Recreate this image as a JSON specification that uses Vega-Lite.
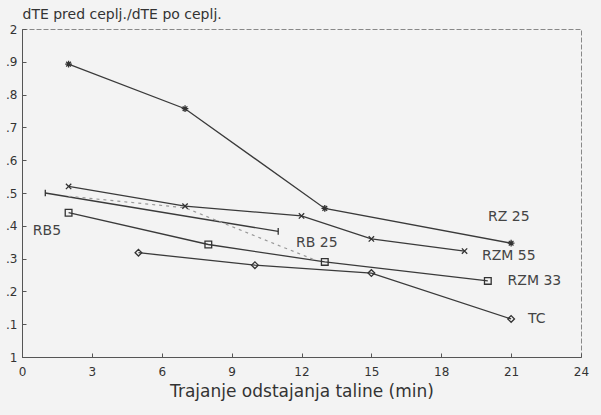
{
  "$schema": "https://vega.github.io/schema/vega-lite/v6.json",
  "width": 559,
  "height": 328,
  "autosize": "none",
  "padding": {"left": 22, "top": 29, "right": 20, "bottom": 58},
  "background": "#f3f3f3",
  "config": {
    "font": "DejaVu Sans",
    "axis": {"labelOverlap": false},
    "view": {"stroke": "#888888", "strokeDash": [5, 2], "strokeWidth": 1}
  },
  "datasets": {
    "lines": [
      {"series": "RZ 25", "x": 2, "y": 1.893},
      {"series": "RZ 25", "x": 7, "y": 1.757},
      {"series": "RZ 25", "x": 13, "y": 1.453},
      {"series": "RZ 25", "x": 21, "y": 1.347},
      {"series": "RZM 55", "x": 2, "y": 1.52},
      {"series": "RZM 55", "x": 7, "y": 1.46},
      {"series": "RZM 55", "x": 12, "y": 1.43},
      {"series": "RZM 55", "x": 15, "y": 1.36},
      {"series": "RZM 55", "x": 19, "y": 1.323},
      {"series": "RZM 33", "x": 2, "y": 1.44},
      {"series": "RZM 33", "x": 8, "y": 1.343},
      {"series": "RZM 33", "x": 13, "y": 1.29},
      {"series": "RZM 33", "x": 20, "y": 1.232},
      {"series": "TC", "x": 5, "y": 1.318},
      {"series": "TC", "x": 10, "y": 1.28},
      {"series": "TC", "x": 15, "y": 1.256},
      {"series": "TC", "x": 21, "y": 1.116},
      {"series": "RB5", "x": 1, "y": 1.5},
      {"series": "RB5", "x": 11, "y": 1.383}
    ],
    "dotted": [
      {"series": "RB 25", "x": 2, "y": 1.49},
      {"series": "RB 25", "x": 7, "y": 1.455},
      {"series": "RB 25", "x": 12.6, "y": 1.295}
    ],
    "labels": [
      {"text": "RZ 25", "x": 20.9, "y": 1.427},
      {"text": "RZM 55", "x": 20.9, "y": 1.308},
      {"text": "RZM 33", "x": 22.0, "y": 1.232},
      {"text": "TC", "x": 22.1, "y": 1.116},
      {"text": "RB 25", "x": 12.66, "y": 1.348},
      {"text": "RB5", "x": 1.07, "y": 1.384}
    ]
  },
  "layer": [
    {
      "data": {"name": "lines"},
      "mark": {"type": "line", "color": "#3a3a3a", "strokeWidth": 1.3},
      "encoding": {
        "x": {
          "field": "x", "type": "quantitative",
          "scale": {"domain": [0, 24], "nice": false},
          "axis": {
            "values": [0, 3, 6, 9, 12, 15, 18, 21, 24],
            "title": "Trajanje odstajanja taline (min)",
            "titleFontSize": 17, "titleFontWeight": "normal", "titleColor": "#333333",
            "titlePadding": 6,
            "labelFontSize": 12, "labelColor": "#333333", "labelPadding": 13,
            "labelOverlap": false, "labelFlush": false,
            "tickSize": -4, "tickColor": "#555555",
            "domainColor": "#555555", "grid": false
          }
        },
        "y": {
          "field": "y", "type": "quantitative",
          "scale": {"domain": [1, 2], "nice": false, "zero": false},
          "axis": {
            "tickCount": 10,
            "format": ".1~f",
            "labelExpr": "replace(datum.label, '1.', '.')",
            "title": "dTE pred ceplj./dTE po ceplj.",
            "titleAngle": 0, "titleAlign": "left", "titleBaseline": "middle",
            "titleX": 0, "titleY": -15,
            "titleFontSize": 14, "titleFontWeight": "normal", "titleColor": "#333333",
            "labelFontSize": 12, "labelColor": "#333333", "labelPadding": 9,
            "labelOverlap": false, "labelFlush": false, "labelSeparation": 0,
            "tickSize": -4, "tickColor": "#555555",
            "domainColor": "#555555", "grid": false
          }
        },
        "detail": {"field": "series"}
      }
    },
    {
      "data": {"name": "dotted"},
      "mark": {"type": "line", "color": "#999999", "strokeWidth": 1.2, "strokeDash": [3, 4]},
      "encoding": {
        "x": {"field": "x", "type": "quantitative"},
        "y": {"field": "y", "type": "quantitative"}
      }
    },
    {
      "data": {"name": "lines"},
      "mark": {"type": "point", "filled": false, "color": "#333333", "strokeWidth": 1.3, "size": 45, "opacity": 1},
      "encoding": {
        "x": {"field": "x", "type": "quantitative"},
        "y": {"field": "y", "type": "quantitative"},
        "shape": {
          "field": "series", "type": "nominal", "legend": null,
          "scale": {
            "domain": ["RZ 25", "RZM 55", "RZM 33", "TC", "RB5"],
            "range": [
              "M-1,0L1,0M0,-1L0,1M-0.7,-0.7L0.7,0.7M0.7,-0.7L-0.7,0.7",
              "M-0.8,-0.8L0.8,0.8M0.8,-0.8L-0.8,0.8",
              "square",
              "diamond",
              "M0,-1L0,1"
            ]
          }
        }
      }
    },
    {
      "data": {"name": "labels"},
      "mark": {"type": "text", "fontSize": 14, "color": "#444444", "align": "center", "baseline": "middle"},
      "encoding": {
        "x": {"field": "x", "type": "quantitative"},
        "y": {"field": "y", "type": "quantitative"},
        "text": {"field": "text"}
      }
    }
  ]
}
